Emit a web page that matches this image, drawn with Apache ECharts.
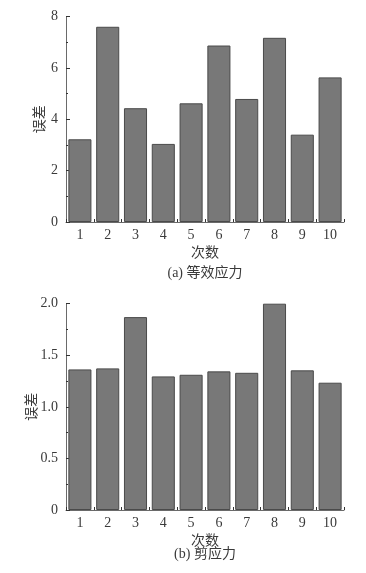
<!DOCTYPE html>
<html>
<head>
<meta charset="utf-8">
<script src="https://cdn.jsdelivr.net/npm/echarts@6/dist/echarts.min.js"></script>
<style>
html,body{margin:0;padding:0;background:#fff;}
#c{width:366px;height:573px;}
</style>
</head>
<body>
<div id="c"></div>
<script>
var categories = ['1','2','3','4','5','6','7','8','9','10'];
var valuesA = [3.22, 7.60, 4.43, 3.04, 4.62, 6.87, 4.79, 7.17, 3.40, 5.63];
var valuesB = [1.363, 1.373, 1.870, 1.295, 1.311, 1.344, 1.330, 2.000, 1.354, 1.234];
var yTicksA = [0, 2, 4, 6, 8];
var yTicksB = [0, 0.5, 1.0, 1.5, 2.0];
var xName = '次数';
var yName = '误差';
var titleA = '(a) 等效应力';
var titleB = '(b) 剪应力';

var serif = '"Liberation Serif", "Noto Sans CJK SC", serif';
var txt = '#3a3a3a';
var axisCol = '#6a6a6a';

function catAxis(gi, nameGap) {
  return {
    type: 'category', gridIndex: gi, data: categories,
    name: xName, nameLocation: 'middle', nameGap: nameGap, nameMoveOverlap: false,
    nameTextStyle: {fontFamily: serif, fontSize: 14, color: txt},
    axisLine: {lineStyle: {color: axisCol, width: 1}},
    axisTick: {alignWithLabel: true, inside: false, length: 3, lineStyle: {color: '#333'}},
    axisLabel: {fontFamily: serif, fontSize: 14, color: txt, margin: 6}
  };
}
function bndAxis(gi) {
  return {
    type: 'value', gridIndex: gi, min: 0, max: 10, interval: 1, position: 'bottom',
    axisLine: {show: false}, axisLabel: {show: false}, splitLine: {show: false},
    axisTick: {show: true, inside: true, length: 3, lineStyle: {color: '#333'}}
  };
}
function valAxis(gi, ticks, nameGap, fmt) {
  var iv = ticks[1] - ticks[0];
  return {
    type: 'value', gridIndex: gi, min: ticks[0], max: ticks[ticks.length - 1], interval: iv,
    name: yName, nameLocation: 'middle', nameGap: nameGap, nameMoveOverlap: false,
    nameTextStyle: {fontFamily: serif, fontSize: 14, color: txt},
    axisLine: {show: true, lineStyle: {color: axisCol, width: 1}},
    axisTick: {show: true, inside: true, length: 4, lineStyle: {color: '#333'}},
    minorTick: {show: true, splitNumber: 2, length: 2, lineStyle: {color: '#333'}},
    splitLine: {show: false},
    axisLabel: {fontFamily: serif, fontSize: 14, color: txt, margin: 8, formatter: fmt}
  };
}

var chart = echarts.init(document.getElementById('c'), null, {renderer: 'canvas'});
chart.setOption({
  animation: false,
  backgroundColor: '#fff',
  title: [
    {text: titleA, left: 205, top: 266, textAlign: 'center', padding: 0,
     textStyle: {fontFamily: serif, fontSize: 14, fontWeight: 'normal', color: txt}},
    {text: titleB, left: 205, top: 547, textAlign: 'center', padding: 0,
     textStyle: {fontFamily: serif, fontSize: 14, fontWeight: 'normal', color: txt}}
  ],
  grid: [
    {left: 66, right: 22, top: 16.5, height: 205.5},
    {left: 66, right: 22, top: 303.7, height: 206.3}
  ],
  xAxis: [catAxis(0, 24), catAxis(1, 24), bndAxis(0), bndAxis(1)],
  yAxis: [
    valAxis(0, yTicksA, 19, function (v) { return String(v); }),
    valAxis(1, yTicksB, 27, function (v) { return v === 0 ? '0' : v.toFixed(1); })
  ],
  series: [
    {type: 'bar', xAxisIndex: 0, yAxisIndex: 0, data: valuesA, barCategoryGap: '17%',
     itemStyle: {color: '#787878', borderColor: '#4a4a4a', borderWidth: 1}},
    {type: 'bar', xAxisIndex: 1, yAxisIndex: 1, data: valuesB, barCategoryGap: '17%',
     itemStyle: {color: '#787878', borderColor: '#4a4a4a', borderWidth: 1}}
  ]
});
</script>
</body>
</html>
